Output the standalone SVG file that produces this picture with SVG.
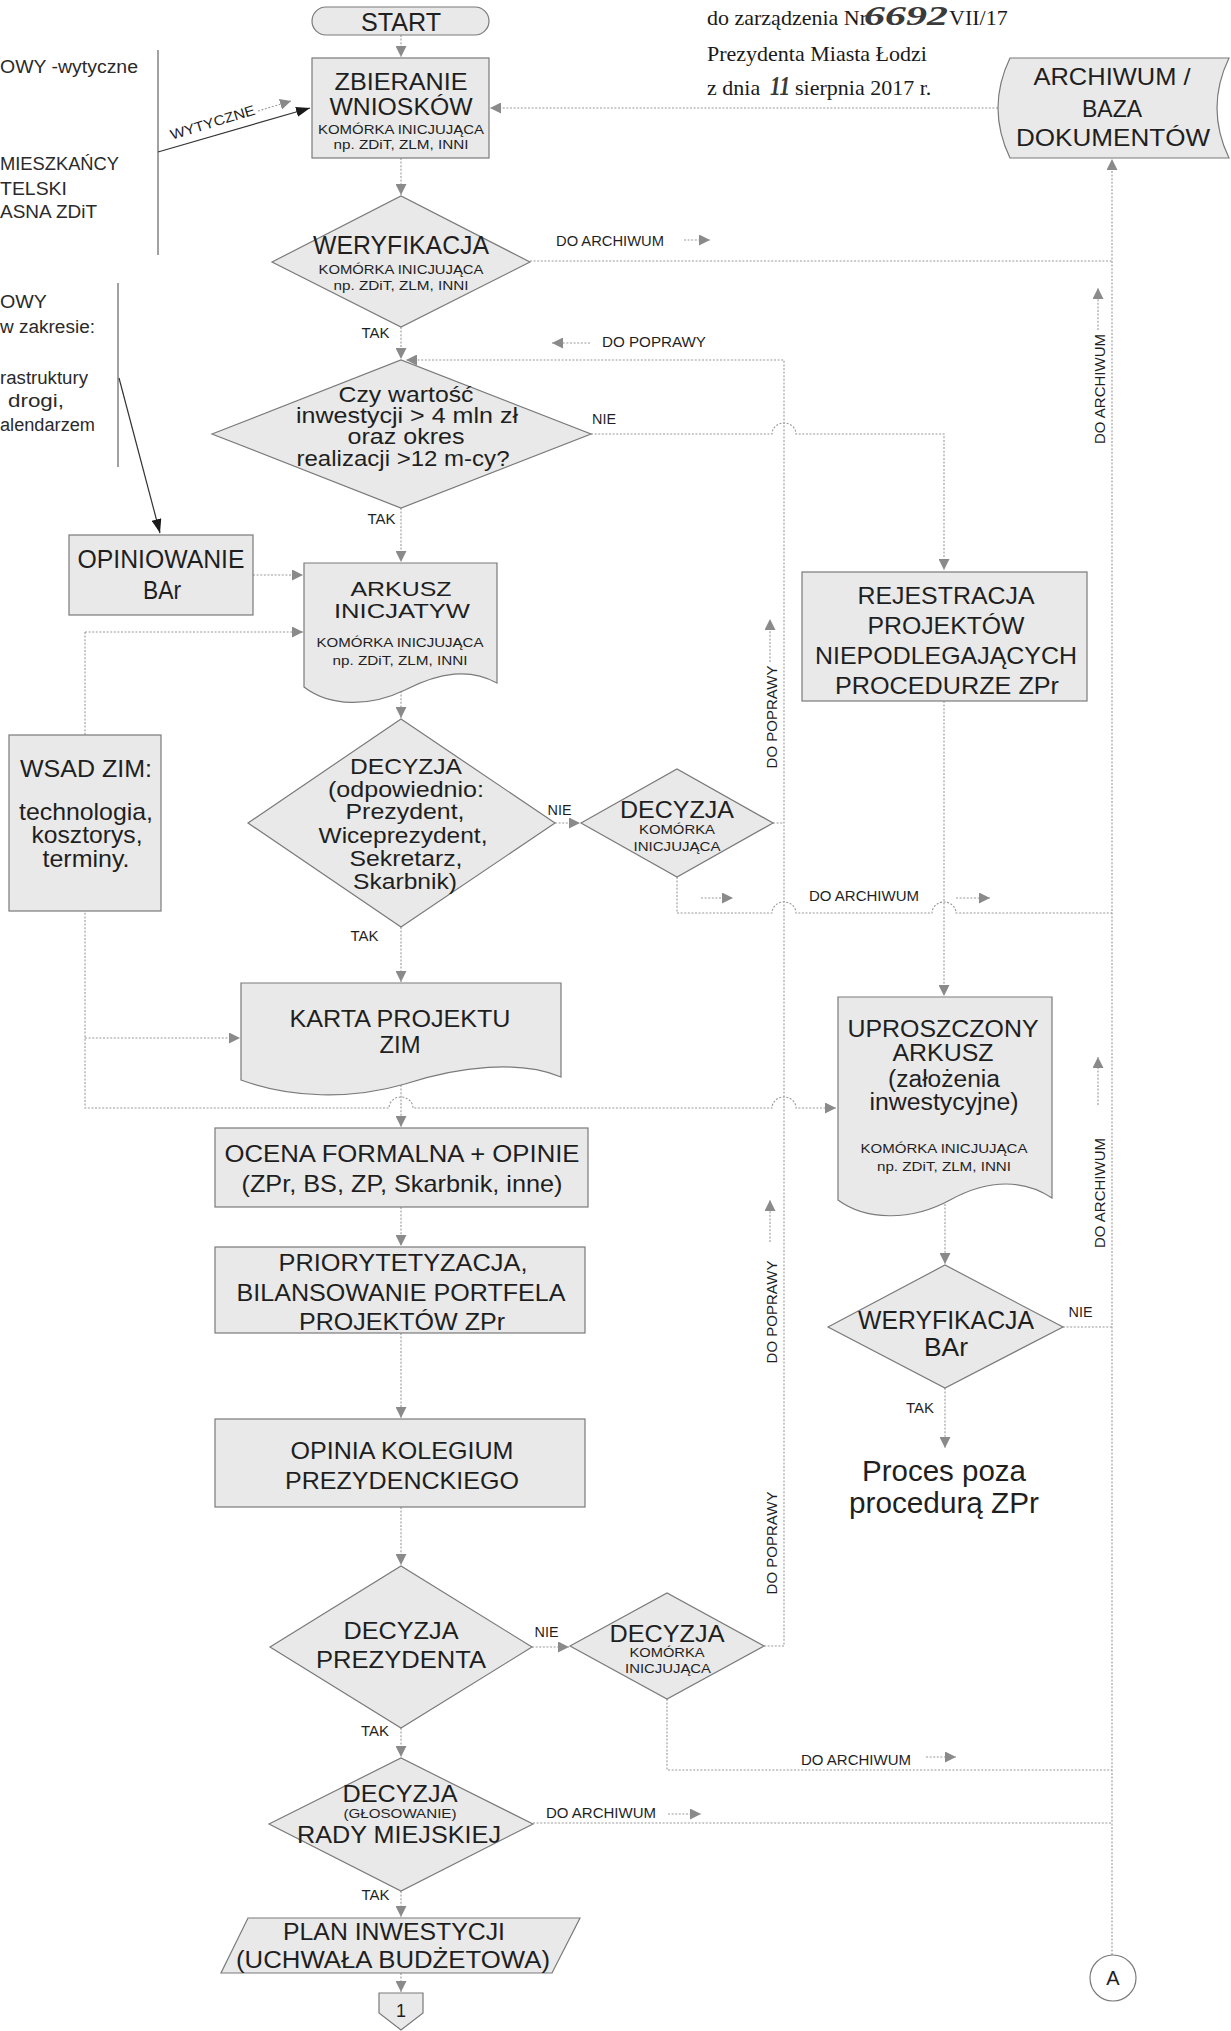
<svg xmlns="http://www.w3.org/2000/svg" width="1231" height="2031" viewBox="0 0 1231 2031">
<defs>
<marker id="ag" viewBox="0 0 11 11" refX="11" refY="5.5" markerWidth="11" markerHeight="11" markerUnits="userSpaceOnUse" orient="auto"><path d="M0,0 L11,5.5 L0,11 Z" fill="#8a8a8a"/></marker>
<marker id="ab" viewBox="0 0 14 10" refX="14" refY="5" markerWidth="14" markerHeight="10" markerUnits="userSpaceOnUse" orient="auto"><path d="M0,0 L14,5 L0,10 Z" fill="#1a1a1a"/></marker>
<style>
.n{fill:#e9e9e9;stroke:#7a7a7a;stroke-width:1.2}
text{font-family:"Liberation Sans",Arial,Helvetica,sans-serif;fill:#1f1f1f}
.m{text-anchor:middle}
.L{font-size:24px}
.S{font-size:13.5px}
.lb{font-size:14px}
.lb14{font-size:14.5px}
.v{font-size:15px;text-anchor:middle}
.c{fill:none;stroke:#9a9a9a;stroke-width:1.1;stroke-dasharray:2 1.6}
.ca{fill:none;stroke:#9a9a9a;stroke-width:1.1;stroke-dasharray:2 1.6;marker-end:url(#ag)}
.k{fill:none;stroke:#555;stroke-width:1.1}
.ka{fill:none;stroke:#333;stroke-width:1.2;marker-end:url(#ab)}
.hd{font-family:"Liberation Serif","Times New Roman",serif;font-size:22px;fill:#1a1a1a}
.hw{font-family:"Liberation Serif","Times New Roman",serif;font-style:italic;font-weight:bold;font-size:27px;fill:#3a3a3a}
.side{font-size:18px;fill:#2a2a2a}
</style>
</defs>
<rect width="1231" height="2031" fill="#ffffff"/>

<g id="header">
<text class="hd" x="707" y="25">do zarządzenia Nr</text>
<text class="hw" x="864" y="25" textLength="84" lengthAdjust="spacingAndGlyphs">6692</text>
<text class="hd" x="949" y="25">VII/17</text>
<text class="hd" x="707" y="61">Prezydenta Miasta Łodzi</text>
<text class="hd" x="707" y="95">z dnia</text>
<text class="hw" x="770" y="95" textLength="20" lengthAdjust="spacingAndGlyphs">11</text>
<text class="hd" x="795" y="95">sierpnia 2017 r.</text>
</g>

<g id="side-notes">
<text class="side" x="0" y="73" textLength="138" lengthAdjust="spacingAndGlyphs">OWY -wytyczne</text>
<text class="side" x="0" y="170" textLength="119" lengthAdjust="spacingAndGlyphs">MIESZKAŃCY</text>
<text class="side" x="0" y="195" textLength="67" lengthAdjust="spacingAndGlyphs">TELSKI</text>
<text class="side" x="0" y="218" textLength="97" lengthAdjust="spacingAndGlyphs">ASNA ZDiT</text>
<text class="side" x="0" y="308" textLength="47" lengthAdjust="spacingAndGlyphs">OWY</text>
<text class="side" x="0" y="333" textLength="95" lengthAdjust="spacingAndGlyphs">w zakresie:</text>
<text class="side" x="0" y="384" textLength="88" lengthAdjust="spacingAndGlyphs">rastruktury</text>
<text class="side" x="8" y="407" textLength="56" lengthAdjust="spacingAndGlyphs">drogi,</text>
<text class="side" x="0" y="431" textLength="95" lengthAdjust="spacingAndGlyphs">alendarzem</text>
</g>

<g id="connectors">
<path class="k" d="M158,50 V255"/>
<path class="k" d="M118,283 V467"/>
<path class="ka" d="M158,152 L310,108"/>
<path class="ka" d="M119,378 L160,533"/>
<path class="ca" d="M258,111 L291,101"/>
<path class="ca" d="M401,35 V57"/>
<path class="ca" d="M401,158 V195"/>
<path class="ca" d="M998,108 H490"/>
<path class="c" d="M530,261 H1112"/>
<path class="ca" d="M1112,1955 V159"/>
<path class="ca" d="M401,327 V359"/>
<path class="ca" d="M764,1646 H784 V360 H406"/>
<path class="c" d="M773,823 H784"/>
<path class="ca" d="M591,434 H772 A12,11 0 0 1 796,434 H944 V570"/>
<path class="ca" d="M401,508 V562"/>
<path class="ca" d="M253,575 H303"/>
<path class="ca" d="M85,632 H303"/>
<path class="ca" d="M85,632 V1108 H389 A12,11 0 0 1 413,1108 H772 A12,11 0 0 1 796,1108 H836"/>
<path class="ca" d="M85,1038 H240"/>
<path class="ca" d="M401,691 V718"/>
<path class="ca" d="M401,927 V982"/>
<path class="ca" d="M555,823 H580"/>
<path class="c" d="M677,877 V913 H772 A12,11 0 0 1 796,913 H932 A12,11 0 0 1 956,913 H1112"/>
<path class="ca" d="M944,701 V996"/>
<path class="ca" d="M401,1085 V1127"/>
<path class="ca" d="M401,1207 V1246"/>
<path class="ca" d="M401,1333 V1418"/>
<path class="ca" d="M401,1507 V1565"/>
<path class="ca" d="M532,1647 H569"/>
<path class="ca" d="M401,1728 V1757"/>
<path class="c" d="M667,1699 V1770 H1112"/>
<path class="c" d="M533,1823 H1112"/>
<path class="ca" d="M401,1891 V1917"/>
<path class="ca" d="M401,1973 V1992"/>
<path class="ca" d="M945,1204 V1264"/>
<path class="c" d="M1063,1327 H1112"/>
<path class="ca" d="M945,1388 V1448"/>
<path class="ca" d="M684,240 H710"/>
<path class="ca" d="M590,343 H552"/>
<path class="ca" d="M1098,330 V288"/>
<path class="ca" d="M1098,1105 V1057"/>
<path class="ca" d="M770,662 V619"/>
<path class="ca" d="M770,1242 V1200"/>
<path class="ca" d="M701,898 H733"/>
<path class="ca" d="M956,898 H990"/>
<path class="ca" d="M926,1757 H956"/>
<path class="ca" d="M668,1814 H701"/>
<text class="lb" x="214" y="127" transform="rotate(-17 214 127)" text-anchor="middle" textLength="88" lengthAdjust="spacingAndGlyphs">WYTYCZNE</text>
<text class="lb m" x="375.5" y="338" textLength="28" lengthAdjust="spacingAndGlyphs">TAK</text>
<text class="lb m" x="381.5" y="524" textLength="28" lengthAdjust="spacingAndGlyphs">TAK</text>
<text class="lb m" x="364.5" y="941" textLength="28" lengthAdjust="spacingAndGlyphs">TAK</text>
<text class="lb m" x="375" y="1736" textLength="28" lengthAdjust="spacingAndGlyphs">TAK</text>
<text class="lb m" x="375.5" y="1900" textLength="28" lengthAdjust="spacingAndGlyphs">TAK</text>
<text class="lb m" x="920" y="1413" textLength="28" lengthAdjust="spacingAndGlyphs">TAK</text>
<text class="lb m" x="604" y="424" textLength="24" lengthAdjust="spacingAndGlyphs">NIE</text>
<text class="lb m" x="559.5" y="815" textLength="24" lengthAdjust="spacingAndGlyphs">NIE</text>
<text class="lb m" x="546.5" y="1637" textLength="24" lengthAdjust="spacingAndGlyphs">NIE</text>
<text class="lb m" x="1080.5" y="1317" textLength="24" lengthAdjust="spacingAndGlyphs">NIE</text>
<text class="lb14" x="556" y="246" textLength="108" lengthAdjust="spacingAndGlyphs">DO ARCHIWUM</text>
<text class="lb14" x="602" y="347" textLength="104" lengthAdjust="spacingAndGlyphs">DO POPRAWY</text>
<text class="lb14" x="809" y="901" textLength="110" lengthAdjust="spacingAndGlyphs">DO ARCHIWUM</text>
<text class="lb14" x="801" y="1765" textLength="110" lengthAdjust="spacingAndGlyphs">DO ARCHIWUM</text>
<text class="lb14" x="546" y="1818" textLength="110" lengthAdjust="spacingAndGlyphs">DO ARCHIWUM</text>
<text class="v" x="1105" y="389" transform="rotate(-90 1105 389)">DO ARCHIWUM</text>
<text class="v" x="1105" y="1193" transform="rotate(-90 1105 1193)">DO ARCHIWUM</text>
<text class="v" x="777" y="717" transform="rotate(-90 777 717)">DO POPRAWY</text>
<text class="v" x="777" y="1312" transform="rotate(-90 777 1312)">DO POPRAWY</text>
<text class="v" x="777" y="1543" transform="rotate(-90 777 1543)">DO POPRAWY</text>
</g>

<g id="start">
<rect class="n" x="312" y="7" width="177" height="28" rx="14"/>
<text class="m" x="401" y="31" font-size="25" textLength="80" lengthAdjust="spacingAndGlyphs">START</text>
</g>

<g id="zbieranie">
<rect class="n" x="312" y="58" width="177" height="100"/>
<text class="m" x="401" y="90" font-size="24" textLength="133" lengthAdjust="spacingAndGlyphs">ZBIERANIE</text>
<text class="m" x="401" y="115" font-size="24" textLength="143" lengthAdjust="spacingAndGlyphs">WNIOSKÓW</text>
<text class="m S" x="401" y="134" textLength="166" lengthAdjust="spacingAndGlyphs">KOMÓRKA INICJUJĄCA</text>
<text class="m S" x="401" y="149" textLength="135" lengthAdjust="spacingAndGlyphs">np. ZDiT, ZLM, INNI</text>
</g>

<g id="archiwum">
<path class="n" d="M1010,58 H1229 Q1205,108 1229,158 H1010 Q986,108 1010,58 Z"/>
<text class="m" x="1112" y="85" font-size="24" textLength="157" lengthAdjust="spacingAndGlyphs">ARCHIWUM /</text>
<text class="m" x="1112" y="117" font-size="24" textLength="60" lengthAdjust="spacingAndGlyphs">BAZA</text>
<text class="m" x="1113" y="146" font-size="24" textLength="194" lengthAdjust="spacingAndGlyphs">DOKUMENTÓW</text>
</g>

<g id="weryfikacja">
<polygon class="n" points="272,262 401,196 530,262 401,327"/>
<text class="m" x="401" y="254" font-size="26" textLength="176" lengthAdjust="spacingAndGlyphs">WERYFIKACJA</text>
<text class="m S" x="401" y="274" textLength="165" lengthAdjust="spacingAndGlyphs">KOMÓRKA INICJUJĄCA</text>
<text class="m S" x="401" y="290" textLength="135" lengthAdjust="spacingAndGlyphs">np. ZDiT, ZLM, INNI</text>
</g>

<g id="czy-wartosc">
<polygon class="n" points="212,434 401,360 591,434 401,508"/>
<text class="m" x="406" y="402" font-size="22" textLength="135" lengthAdjust="spacingAndGlyphs">Czy wartość</text>
<text class="m" x="407" y="423" font-size="22" textLength="222" lengthAdjust="spacingAndGlyphs">inwestycji &gt; 4 mln zł</text>
<text class="m" x="406" y="444" font-size="22" textLength="117" lengthAdjust="spacingAndGlyphs">oraz okres</text>
<text class="m" x="403" y="466" font-size="22" textLength="213" lengthAdjust="spacingAndGlyphs">realizacji &gt;12 m-cy?</text>
</g>

<g id="opiniowanie">
<rect class="n" x="69" y="535" width="184" height="80"/>
<text class="m" x="161" y="568" font-size="26" textLength="167" lengthAdjust="spacingAndGlyphs">OPINIOWANIE</text>
<text class="m" x="162" y="599" font-size="26" textLength="38" lengthAdjust="spacingAndGlyphs">BAr</text>
</g>

<g id="arkusz">
<path class="n" d="M304,563 H497 V683 C470,668 440,672 405,690 C370,707 330,707 304,687 Z"/>
<text class="m" x="401" y="596" font-size="21" textLength="101" lengthAdjust="spacingAndGlyphs">ARKUSZ</text>
<text class="m" x="402" y="618" font-size="21" textLength="136" lengthAdjust="spacingAndGlyphs">INICJATYW</text>
<text class="m S" x="400" y="647" textLength="167" lengthAdjust="spacingAndGlyphs">KOMÓRKA INICJUJĄCA</text>
<text class="m S" x="400" y="665" textLength="135" lengthAdjust="spacingAndGlyphs">np. ZDiT, ZLM, INNI</text>
</g>

<g id="wsad-zim">
<rect class="n" x="9" y="735" width="152" height="176"/>
<text class="m L" x="86" y="777" textLength="132" lengthAdjust="spacingAndGlyphs">WSAD ZIM:</text>
<text class="m L" x="86" y="820" textLength="134" lengthAdjust="spacingAndGlyphs">technologia,</text>
<text class="m L" x="87" y="843" textLength="111" lengthAdjust="spacingAndGlyphs">kosztorys,</text>
<text class="m L" x="86" y="867" textLength="87" lengthAdjust="spacingAndGlyphs">terminy.</text>
</g>

<g id="decyzja">
<polygon class="n" points="248,823 401,719 555,823 401,927"/>
<text class="m" x="406" y="774" font-size="22" textLength="112" lengthAdjust="spacingAndGlyphs">DECYZJA</text>
<text class="m" x="406" y="797" font-size="22" textLength="156" lengthAdjust="spacingAndGlyphs">(odpowiednio:</text>
<text class="m" x="405" y="819" font-size="22" textLength="119" lengthAdjust="spacingAndGlyphs">Prezydent,</text>
<text class="m" x="403" y="843" font-size="22" textLength="169" lengthAdjust="spacingAndGlyphs">Wiceprezydent,</text>
<text class="m" x="406" y="866" font-size="22" textLength="113" lengthAdjust="spacingAndGlyphs">Sekretarz,</text>
<text class="m" x="405" y="889" font-size="22" textLength="104" lengthAdjust="spacingAndGlyphs">Skarbnik)</text>
</g>

<g id="decyzja-komorka-1">
<polygon class="n" points="581,823 677,769 773,823 677,877"/>
<text class="m" x="677" y="818" font-size="24" textLength="114" lengthAdjust="spacingAndGlyphs">DECYZJA</text>
<text class="m" x="677" y="834" font-size="13" textLength="76" lengthAdjust="spacingAndGlyphs">KOMÓRKA</text>
<text class="m" x="677" y="851" font-size="13" textLength="87" lengthAdjust="spacingAndGlyphs">INICJUJĄCA</text>
</g>

<g id="rejestracja">
<rect class="n" x="802" y="572" width="285" height="129"/>
<text class="m L" x="946" y="604" textLength="177" lengthAdjust="spacingAndGlyphs">REJESTRACJA</text>
<text class="m L" x="946" y="634" textLength="157" lengthAdjust="spacingAndGlyphs">PROJEKTÓW</text>
<text class="m L" x="946" y="664" textLength="262" lengthAdjust="spacingAndGlyphs">NIEPODLEGAJĄCYCH</text>
<text class="m L" x="947" y="694" textLength="224" lengthAdjust="spacingAndGlyphs">PROCEDURZE ZPr</text>
</g>

<g id="karta-projektu">
<path class="n" d="M241,983 H561 V1077 C520,1060 460,1066 405,1084 C350,1100 290,1098 241,1080 Z"/>
<text class="m L" x="400" y="1027" textLength="221" lengthAdjust="spacingAndGlyphs">KARTA PROJEKTU</text>
<text class="m L" x="400" y="1053" textLength="41" lengthAdjust="spacingAndGlyphs">ZIM</text>
</g>

<g id="uproszczony-arkusz">
<path class="n" d="M838,997 H1052 V1198 C1025,1180 990,1178 950,1200 C910,1222 865,1220 838,1200 Z"/>
<text class="m" x="943" y="1037" font-size="23" textLength="191" lengthAdjust="spacingAndGlyphs">UPROSZCZONY</text>
<text class="m" x="943" y="1061" font-size="23" textLength="101" lengthAdjust="spacingAndGlyphs">ARKUSZ</text>
<text class="m" x="944" y="1087" font-size="23" textLength="112" lengthAdjust="spacingAndGlyphs">(założenia</text>
<text class="m" x="944" y="1110" font-size="23" textLength="149" lengthAdjust="spacingAndGlyphs">inwestycyjne)</text>
<text class="m S" x="944" y="1153" textLength="167" lengthAdjust="spacingAndGlyphs">KOMÓRKA INICJUJĄCA</text>
<text class="m S" x="944" y="1171" textLength="134" lengthAdjust="spacingAndGlyphs">np. ZDiT, ZLM, INNI</text>
</g>

<g id="ocena-formalna">
<rect class="n" x="215" y="1128" width="373" height="79"/>
<text class="m L" x="402" y="1162" textLength="355" lengthAdjust="spacingAndGlyphs">OCENA FORMALNA +  OPINIE</text>
<text class="m L" x="402" y="1192" textLength="321" lengthAdjust="spacingAndGlyphs">(ZPr, BS, ZP, Skarbnik, inne)</text>
</g>

<g id="priorytetyzacja">
<rect class="n" x="215" y="1247" width="370" height="86"/>
<text class="m L" x="403" y="1271" textLength="249" lengthAdjust="spacingAndGlyphs">PRIORYTETYZACJA,</text>
<text class="m L" x="401" y="1301" textLength="329" lengthAdjust="spacingAndGlyphs">BILANSOWANIE PORTFELA</text>
<text class="m L" x="402" y="1330" textLength="206" lengthAdjust="spacingAndGlyphs">PROJEKTÓW ZPr</text>
</g>

<g id="opinia-kolegium">
<rect class="n" x="215" y="1419" width="370" height="88"/>
<text class="m L" x="402" y="1459" textLength="223" lengthAdjust="spacingAndGlyphs">OPINIA KOLEGIUM</text>
<text class="m L" x="402" y="1489" textLength="234" lengthAdjust="spacingAndGlyphs">PREZYDENCKIEGO</text>
</g>

<g id="weryfikacja-bar">
<polygon class="n" points="828,1327 945,1265 1063,1327 945,1388"/>
<text class="m" x="946" y="1329" font-size="25" textLength="176" lengthAdjust="spacingAndGlyphs">WERYFIKACJA</text>
<text class="m" x="946" y="1356" font-size="25" textLength="44" lengthAdjust="spacingAndGlyphs">BAr</text>
</g>

<g id="proces-poza">
<text class="m" x="944" y="1481" font-size="29" textLength="164" lengthAdjust="spacingAndGlyphs">Proces poza</text>
<text class="m" x="944" y="1513" font-size="29" textLength="190" lengthAdjust="spacingAndGlyphs">procedurą ZPr</text>
</g>

<g id="decyzja-prezydenta">
<polygon class="n" points="270,1647 401,1566 532,1647 401,1728"/>
<text class="m L" x="401" y="1639" textLength="115" lengthAdjust="spacingAndGlyphs">DECYZJA</text>
<text class="m L" x="401" y="1668" textLength="170" lengthAdjust="spacingAndGlyphs">PREZYDENTA</text>
</g>

<g id="decyzja-komorka-2">
<polygon class="n" points="570,1646 667,1593 764,1646 667,1699"/>
<text class="m" x="667" y="1642" font-size="24" textLength="115" lengthAdjust="spacingAndGlyphs">DECYZJA</text>
<text class="m" x="667" y="1657" font-size="13" textLength="75" lengthAdjust="spacingAndGlyphs">KOMÓRKA</text>
<text class="m" x="668" y="1673" font-size="13" textLength="86" lengthAdjust="spacingAndGlyphs">INICJUJĄCA</text>
</g>

<g id="decyzja-rady">
<polygon class="n" points="269,1824 401,1758 533,1824 401,1891"/>
<text class="m" x="400" y="1802" font-size="23" textLength="115" lengthAdjust="spacingAndGlyphs">DECYZJA</text>
<text class="m" x="400" y="1818" font-size="12.5" textLength="113" lengthAdjust="spacingAndGlyphs">(GŁOSOWANIE)</text>
<text class="m" x="399" y="1843" font-size="23" textLength="204" lengthAdjust="spacingAndGlyphs">RADY MIEJSKIEJ</text>
</g>

<g id="plan-inwestycji">
<path class="n" d="M248,1918 H580 L552,1973 H221 Z"/>
<text class="m" x="394" y="1940" font-size="23" textLength="222" lengthAdjust="spacingAndGlyphs">PLAN INWESTYCJI</text>
<text class="m" x="393" y="1968" font-size="23" textLength="314" lengthAdjust="spacingAndGlyphs">(UCHWAŁA  BUDŻETOWA)</text>
</g>

<g id="lacznik-1">
<path class="n" d="M379,1993 H423 V2013 L401,2030 L379,2013 Z"/>
<text class="m" x="401" y="2017" font-size="18">1</text>
</g>

<g id="lacznik-a">
<circle cx="1113" cy="1978" r="23" fill="#ffffff" stroke="#7a7a7a" stroke-width="1.2"/>
<text class="m" x="1113" y="1985" font-size="20">A</text>
</g>
</svg>
